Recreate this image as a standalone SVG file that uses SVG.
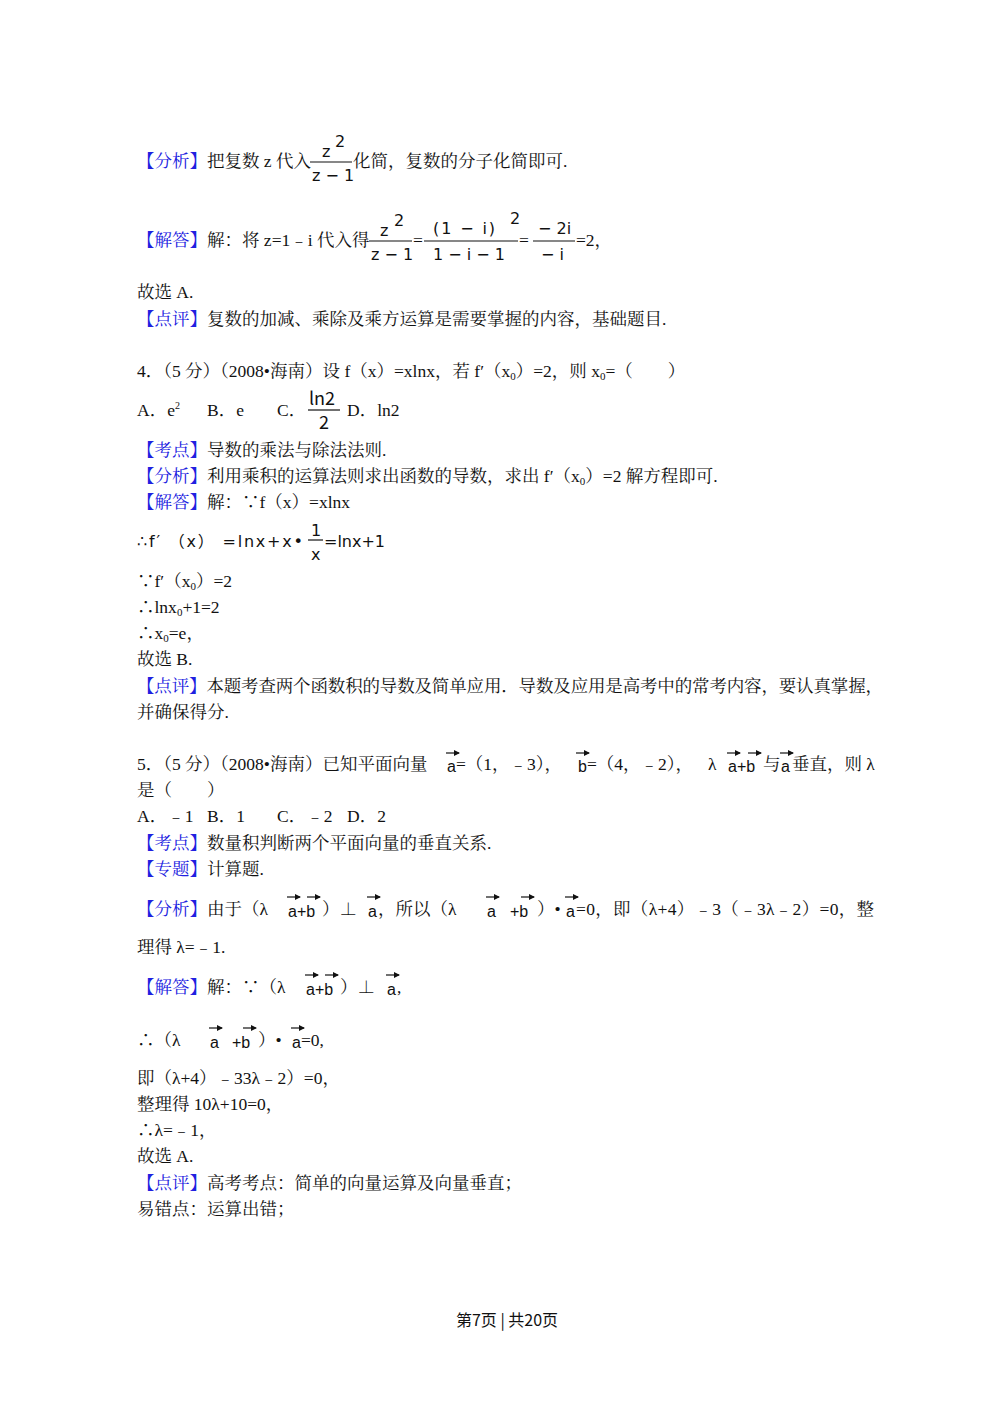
<svg xmlns="http://www.w3.org/2000/svg" width="1000" height="1414" viewBox="0 0 1000 1414">
<style>
text{font-family:"Liberation Serif","Noto Serif CJK SC","Noto Sans CJK SC",serif;font-size:17.5px;fill:#111}
.b{fill:#2020e0}
.m{font-family:"DejaVu Sans","Noto Sans CJK SC",sans-serif;font-size:16px}
.f{font-family:"Noto Sans CJK SC",sans-serif;font-size:18px}
.s{font-family:"Liberation Sans",sans-serif;font-size:16px}
line{stroke:#111;stroke-width:1.2}
.v{stroke-width:1.2;marker-end:url(#ah)}
</style>
<defs><marker id="ah" markerWidth="6" markerHeight="6" refX="5" refY="3" orient="auto" markerUnits="userSpaceOnUse"><path d="M0,0L6,3L0,6z" fill="#111"/></marker></defs>
<rect width="1000" height="1414" fill="#fff"/>
<text x="137" y="167"><tspan class="b">【分析】</tspan>把复数 z 代入</text>
<text class="m" x="322" y="157">z</text><text class="m" x="335" y="147" font-size="13">2</text>
<line x1="310" y1="162" x2="352" y2="162"/>
<text class="m" x="312" y="181">z − 1</text>
<text x="353" y="167">化简，复数的分子化简即可.</text>

<text x="137" y="246"><tspan class="b">【解答】</tspan>解：将 z=1﹣i 代入得</text>
<text class="m" x="380" y="236">z</text><text class="m" x="394" y="226" font-size="13">2</text>
<line x1="369" y1="241" x2="412" y2="241"/>
<text class="m" x="371" y="260">z − 1</text>
<text x="413" y="246">=</text>
<text class="m" x="433" y="234" textLength="62">(1 − i)</text><text class="m" x="510" y="224" font-size="13">2</text>
<line x1="424" y1="241" x2="518" y2="241"/>
<text class="m" x="433" y="260">1 − i − 1</text>
<text x="519" y="246">=</text>
<text class="m" x="538" y="234">− 2i</text>
<line x1="533" y1="241" x2="575" y2="241"/>
<text class="m" x="541" y="260">− i</text>
<text x="576" y="246">=2，</text>

<text x="137" y="298">故选 A.</text>
<text x="137" y="325"><tspan class="b">【点评】</tspan>复数的加减、乘除及乘方运算是需要掌握的内容，基础题目.</text>

<text x="137" y="377">4．（5 分）（2008•海南）设 f（x）=xlnx，若 f′（x<tspan font-size="11" dy="3">0</tspan><tspan dy="-3">）=2，则 x</tspan><tspan font-size="11" dy="3">0</tspan><tspan dy="-3">=（　　）</tspan></text>

<text x="137" y="416">A．e<tspan font-size="10" dy="-7">2</tspan><tspan dy="7" x="207">B．e</tspan><tspan x="277">C．</tspan></text>
<text class="f" x="309" y="405">ln2</text>
<line x1="308" y1="410" x2="340" y2="410"/>
<text class="f" x="319" y="429">2</text>
<text x="347" y="416">D．ln2</text>

<text x="137" y="456"><tspan class="b">【考点】</tspan>导数的乘法与除法法则.</text>
<text x="137" y="482"><tspan class="b">【分析】</tspan>利用乘积的运算法则求出函数的导数，求出 f′（x<tspan font-size="11" dy="3">0</tspan><tspan dy="-3">）=2 解方程即可.</tspan></text>
<text x="137" y="508"><tspan class="b">【解答】</tspan>解：∵f（x）=xlnx</text>
<text class="m" x="137" y="547" textLength="166">∴f′ （x） =lnx+x•</text>
<text class="m" x="311" y="536">1</text>
<line x1="308" y1="540" x2="323" y2="540"/>
<text class="m" x="311" y="560">x</text>
<text class="m" x="324" y="547">=lnx+1</text>

<text x="137" y="587">∵f′（x<tspan font-size="11" dy="3">0</tspan><tspan dy="-3">）=2</tspan></text>
<text x="137" y="613">∴lnx<tspan font-size="11" dy="3">0</tspan><tspan dy="-3">+1=2</tspan></text>
<text x="137" y="639">∴x<tspan font-size="11" dy="3">0</tspan><tspan dy="-3">=e，</tspan></text>
<text x="137" y="665">故选 B.</text>
<text x="137" y="692" textLength="746"><tspan class="b">【点评】</tspan>本题考查两个函数积的导数及简单应用．导数及应用是高考中的常考内容，要认真掌握，</text>
<text x="137" y="718">并确保得分.</text>

<g>
<text x="137" y="770">5．（5 分）（2008•海南）已知平面向量</text>
<text class="s" x="447" y="772">a</text><line class="v" x1="446" y1="753" x2="459" y2="753"/>
<text x="456" y="770">=（1，﹣3），</text>
<text class="s" x="578" y="772">b</text><line class="v" x1="576" y1="753" x2="589" y2="753"/>
<text x="587" y="770">=（4，﹣2），</text>
<text x="708" y="770">λ</text>
<text class="s" x="728" y="772">a+b</text><line class="v" x1="727" y1="753" x2="740" y2="753"/><line class="v" x1="748" y1="753" x2="761" y2="753"/>
<text x="763" y="770">与</text>
<text class="s" x="781" y="772">a</text><line class="v" x1="780" y1="753" x2="793" y2="753"/>
<text x="792" y="770">垂直，则 λ</text>
</g>
<text x="137" y="796">是（　　）</text>
<text x="137" y="822">A．﹣1<tspan x="207">B．1</tspan><tspan x="277">C．﹣2</tspan><tspan x="347">D．2</tspan></text>
<text x="137" y="849"><tspan class="b">【考点】</tspan>数量积判断两个平面向量的垂直关系.</text>
<text x="137" y="875"><tspan class="b">【专题】</tspan>计算题.</text>

<text x="137" y="915"><tspan class="b">【分析】</tspan>由于（λ</text>
<text class="s" x="288" y="917">a+b</text><line class="v" x1="287" y1="897" x2="300" y2="897"/><line class="v" x1="307" y1="897" x2="320" y2="897"/>
<text x="322" y="915">）⊥</text>
<text class="s" x="368" y="917">a</text><line class="v" x1="367" y1="897" x2="380" y2="897"/>
<text x="378" y="915">，所以（λ</text>
<text class="s" x="487" y="917">a</text><line class="v" x1="486" y1="897" x2="499" y2="897"/>
<text class="s" x="510" y="917">+b</text><line class="v" x1="521" y1="897" x2="534" y2="897"/>
<text x="537" y="915">）•</text>
<text class="s" x="566" y="917">a</text><line class="v" x1="565" y1="897" x2="578" y2="897"/>
<text x="576" y="915" textLength="298">=0，即（λ+4）﹣3（﹣3λ﹣2）=0，整</text>
<text x="137" y="953">理得 λ=﹣1.</text>

<text x="137" y="993"><tspan class="b">【解答】</tspan>解：∵（λ</text>
<text class="s" x="306" y="995">a+b</text><line class="v" x1="305" y1="975" x2="318" y2="975"/><line class="v" x1="325" y1="975" x2="338" y2="975"/>
<text x="340" y="993">）⊥</text>
<text class="s" x="387" y="995">a</text><line class="v" x1="386" y1="975" x2="399" y2="975"/>
<text x="397" y="993">,</text>

<text x="137" y="1046">∴（λ</text>
<text class="s" x="210" y="1048">a</text><line class="v" x1="209" y1="1028" x2="222" y2="1028"/>
<text class="s" x="232" y="1048">+b</text><line class="v" x1="243" y1="1028" x2="256" y2="1028"/>
<text x="258" y="1046">）•</text>
<text class="s" x="292" y="1048">a</text><line class="v" x1="291" y1="1028" x2="304" y2="1028"/>
<text x="301" y="1046">=0,</text>

<text x="137" y="1084">即（λ+4）﹣33λ﹣2）=0，</text>
<text x="137" y="1110">整理得 10λ+10=0，</text>
<text x="137" y="1136">∴λ=﹣1，</text>
<text x="137" y="1162">故选 A.</text>
<text x="137" y="1189"><tspan class="b">【点评】</tspan>高考考点：简单的向量运算及向量垂直；</text>
<text x="137" y="1215">易错点：运算出错；</text>
<text x="507" y="1326" text-anchor="middle" style="font-family:'Noto Sans CJK SC',sans-serif;font-size:16px">第7页 | 共20页</text>
</svg>
